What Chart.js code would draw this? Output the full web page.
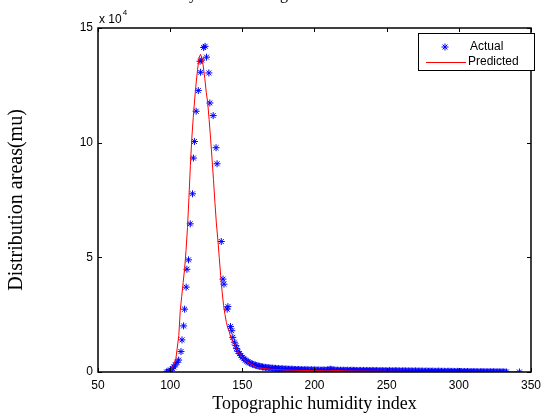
<!DOCTYPE html>
<html>
<head>
<meta charset="utf-8">
<script src="https://cdn.jsdelivr.net/npm/chart.js@4.4.1/dist/chart.umd.min.js"></script>
<style>
 html, body { margin: 0; padding: 0; background: #fff; }
 #wrap { width: 547px; height: 419px; }
</style>
</head>
<body>
<div id="wrap"><canvas id="twi-chart" width="547" height="419"></canvas></div>
<script>
// values in units of 10^4 mu
var peakX = [97.5, 98.5, 99.5, 100.2, 101.5, 102.5, 103.6, 104.8, 105.9, 107.5,
 108.2, 109.3, 110.0, 111.1, 111.6, 112.7, 113.9, 115.5, 116.1, 116.8,
 118.0, 119.5, 120.7, 121.1, 121.8, 123.2, 124.2, 125.2, 126.8, 127.5,
 129.8, 131.8, 132.5, 135.4, 136.6, 137.3, 139.5, 140.0, 141.8,
 142.7, 143.4, 144.5, 145.5];
var peakY = [0.00, 0.01, 0.03, 0.09, 0.15, 0.22, 0.31, 0.42, 0.52, 0.89,
 1.40, 2.01, 2.74, 3.70, 4.48, 4.89, 6.46, 7.77, 9.33, 10.05,
 11.37, 12.27, 13.55, 13.07, 13.60, 14.15, 14.20, 13.73, 13.04, 11.73,
 11.18, 9.78, 9.08, 5.69, 4.05, 3.83, 2.74, 2.85, 1.98,
 1.80, 1.51, 1.30, 1.15];

var tailStart = 146;
var tailY = [
 1.02, 0.90, 0.80, 0.72, 0.64, 0.58, 0.52, 0.48, 0.44, 0.40,
 0.37, 0.34, 0.32, 0.30, 0.28, 0.26, 0.25, 0.24, 0.22, 0.21,
 0.20, 0.19, 0.19, 0.18, 0.17, 0.17, 0.16, 0.16, 0.15, 0.15,
 0.14, 0.14, 0.14, 0.13, 0.13, 0.13, 0.12, 0.12, 0.12, 0.12,
 0.11, 0.11, 0.11, 0.11, 0.10, 0.10, 0.10, 0.10, 0.10, 0.10,
 0.09, 0.09, 0.10, 0.09, 0.09, 0.09, 0.08, 0.09, 0.08, 0.08,
 0.09, 0.08, 0.08, 0.09, 0.10, 0.12, 0.11, 0.09, 0.08, 0.08,
 0.08, 0.07, 0.08, 0.07, 0.08, 0.07, 0.07, 0.08, 0.07, 0.07,
 0.08, 0.07, 0.07, 0.07, 0.06, 0.07, 0.07, 0.06, 0.07, 0.06,
 0.06, 0.07, 0.06, 0.06, 0.07, 0.06, 0.06, 0.06, 0.06, 0.05,
 0.06, 0.06, 0.05, 0.06, 0.05, 0.05, 0.06, 0.05, 0.05, 0.05,
 0.06, 0.05, 0.05, 0.05, 0.04, 0.05, 0.05, 0.05, 0.04, 0.05,
 0.04, 0.05, 0.04, 0.04, 0.05, 0.04, 0.04, 0.04, 0.04, 0.04,
 0.03, 0.04, 0.04, 0.03, 0.04, 0.03, 0.04, 0.03, 0.03, 0.03,
 0.04, 0.03, 0.03, 0.03, 0.03, 0.02, 0.03, 0.03, 0.03, 0.02,
 0.03, 0.02, 0.02, 0.03, 0.02, 0.02, 0.02, 0.02, 0.02, 0.02,
 0.02, 0.02, 0.01, 0.02, 0.02, 0.01, 0.02, 0.01, 0.01, 0.01,
 0.02, 0.01, 0.01, 0.01, 0.01, 0.01, 0.01, 0.01, 0.01, 0.01,
 0.00, 0.01, 0.01, 0.00, 0.01, 0.00, 0.00, 0.00];
var lastX = [342];
var lastY = [0.00];

var predX = [97, 100, 102, 104, 106, 107, 108, 109, 110, 111,
 112, 113, 114, 115, 116, 117, 118, 119, 120, 121,
 122, 123, 124, 125, 126, 127, 128, 129, 130, 131,
 132, 133, 134, 135, 136, 137, 138, 139, 140, 141,
 142, 144, 146, 148, 150, 153, 156, 160, 165, 170,
 180, 190, 200, 210, 215, 220, 230, 250, 275, 300,
 330, 342];
var predY = [0.00, 0.02, 0.25, 0.60, 1.60, 2.70, 3.30, 3.90, 4.50, 5.30,
 6.30, 7.60, 9.00, 10.20, 11.10, 11.90, 12.60, 13.20, 13.70, 13.85,
 13.70, 13.30, 12.80, 12.20, 11.75, 11.00, 10.20, 9.30, 8.40, 7.40,
 6.50, 5.80, 5.00, 4.20, 3.50, 2.90, 2.50, 2.15, 1.90, 1.75,
 1.50, 1.25, 1.00, 0.80, 0.62, 0.45, 0.35, 0.20, 0.15, 0.12,
 0.09, 0.07, 0.06, 0.05, 0.07, 0.05, 0.04, 0.03, 0.02, 0.01,
 0.01, 0.00];

var xTicks = [50, 100, 150, 200, 250, 300, 350];
var yTicks = [0, 5, 10, 15];

var chartTitle = "Accuracy of area fitting model for the whole river basin";
var xTitle = "Topographic humidity index";
var yTitle = "Distribution areas(mu)";

var actualPts = [];
peakX.forEach(function (x, i) {
 actualPts.push({ x: x, y: peakY[i] });
});
tailY.forEach(function (y, i) {
 actualPts.push({ x: tailStart + i, y: y });
});
lastX.forEach(function (x, i) {
 actualPts.push({ x: x, y: lastY[i] });
});

var predPts = predX.map(function (x, i) {
 return { x: x, y: predY[i] };
});

var sansFont = "'Liberation Sans', Arial, sans-serif";
var serifFont = "'Liberation Serif', 'Times New Roman', serif";

// frame, inward ticks, exponent label, title and legend box
var matlabBits = {
 id: "matlabBits",
 afterDatasetsDraw: function (chart) {
  var ctx = chart.ctx;
  var area = chart.chartArea;
  var xs = chart.scales.x;
  var ys = chart.scales.y;
  var tl = 4;

  ctx.save();
  ctx.strokeStyle = "#000";
  ctx.lineWidth = 1.5;
  ctx.strokeRect(area.left, area.top, area.right - area.left, area.bottom - area.top);

  ctx.lineWidth = 1;
  ctx.beginPath();
  xTicks.forEach(function (v) {
   var px = Math.round(xs.getPixelForValue(v)) + 0.5;
   ctx.moveTo(px, area.bottom);
   ctx.lineTo(px, area.bottom - tl);
   ctx.moveTo(px, area.top);
   ctx.lineTo(px, area.top + tl);
  });
  yTicks.forEach(function (v) {
   var py = Math.round(ys.getPixelForValue(v)) + 0.5;
   ctx.moveTo(area.left, py);
   ctx.lineTo(area.left + tl, py);
   ctx.moveTo(area.right, py);
   ctx.lineTo(area.right - tl, py);
  });
  ctx.stroke();

  // x 10^4
  ctx.fillStyle = "#000";
  ctx.textBaseline = "alphabetic";
  ctx.textAlign = "left";
  ctx.font = "12px " + sansFont;
  ctx.fillText("x 10", area.left + 1, area.top - 5);
  var w = ctx.measureText("x 10").width;
  ctx.font = "8px " + sansFont;
  ctx.fillText("4", area.left + 2 + w, area.top - 13);

  // title, mostly cut off by the top edge
  ctx.font = "16px " + serifFont;
  ctx.textAlign = "center";
  ctx.fillText(chartTitle, (area.left + area.right) / 2, -1);

  // legend
  var bx = 418, by = 33, bw = 116, bh = 37;
  ctx.fillStyle = "#fff";
  ctx.fillRect(bx, by, bw, bh);
  ctx.strokeStyle = "#000";
  ctx.lineWidth = 1;
  ctx.strokeRect(bx + 0.5, by + 0.5, bw, bh);

  var ds = chart.data.datasets;
  ctx.strokeStyle = ds[0].borderColor;
  ctx.fillStyle = ds[0].borderColor;
  Chart.helpers.drawPoint(ctx, {
   pointStyle: "star",
   radius: 3.5,
   borderWidth: 1,
  }, bx + 27, by + 14);

  ctx.strokeStyle = ds[1].borderColor;
  ctx.beginPath();
  ctx.moveTo(bx + 8, by + 29.5);
  ctx.lineTo(bx + 48, by + 29.5);
  ctx.stroke();

  ctx.fillStyle = "#000";
  ctx.textAlign = "left";
  ctx.textBaseline = "middle";
  ctx.font = "12px " + sansFont;
  ctx.fillText(ds[0].label, bx + 52, by + 14);
  ctx.fillText(ds[1].label, bx + 50, by + 29);
  ctx.restore();
 },
};

var ctx = document.getElementById("twi-chart");

new Chart(ctx, {
 type: "scatter",
 data: {
  datasets: [
   {
    label: "Actual",
    data: actualPts,
    showLine: false,
    pointStyle: "star",
    pointRadius: 3.5,
    borderWidth: 1,
    borderColor: "#0000ff",
    backgroundColor: "#0000ff",
    order: 1,
   },
   {
    label: "Predicted",
    data: predPts,
    showLine: true,
    pointRadius: 0,
    borderWidth: 1,
    borderColor: "#ff0000",
    backgroundColor: "#ff0000",
    tension: 0,
    order: 0,
   },
  ],
 },
 options: {
  responsive: false,
  animation: false,
  events: [],
  layout: {
   padding: { top: 28, right: 9, left: 0, bottom: 0 },
  },
  plugins: {
   legend: { display: false },
   tooltip: { enabled: false },
  },
  scales: {
   x: {
    type: "linear",
    min: 50,
    max: 350,
    afterBuildTicks: function (scale) {
     scale.ticks = xTicks.map(function (v) { return { value: v }; });
    },
    afterFit: function (scale) {
     scale.height = 47;
    },
    grid: { display: false, drawTicks: false },
    border: { display: false },
    ticks: {
     color: "#000",
     padding: 6,
     maxRotation: 0,
     font: { family: sansFont, size: 12 },
    },
    title: {
     display: true,
     text: xTitle,
     color: "#000",
     padding: { top: 0, bottom: 4 },
     font: { family: serifFont, size: 18 },
    },
   },
   y: {
    type: "linear",
    min: 0,
    max: 15,
    afterBuildTicks: function (scale) {
     scale.ticks = yTicks.map(function (v) { return { value: v }; });
    },
    afterFit: function (scale) {
     scale.width = 98;
    },
    grid: { display: false, drawTicks: false },
    border: { display: false },
    ticks: {
     color: "#000",
     padding: 5,
     font: { family: sansFont, size: 12 },
    },
    title: {
     display: true,
     text: yTitle,
     color: "#000",
     padding: { top: 5, bottom: 0 },
     font: { family: serifFont, size: 20 },
    },
   },
  },
 },
 plugins: [matlabBits],
});
</script>
</body>
</html>
